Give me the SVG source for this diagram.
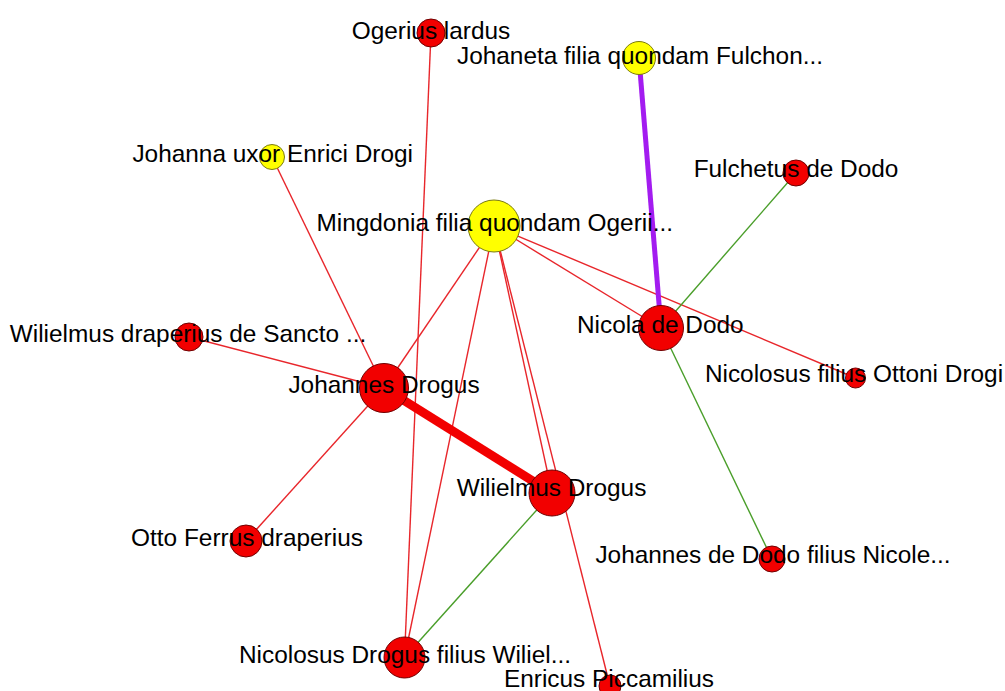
<svg xmlns="http://www.w3.org/2000/svg" width="1005" height="691" viewBox="0 0 1005 691">
<style>
.e{stroke:#e8262b;stroke-width:1.4;fill:none}
.g{stroke:#4a9e2a;stroke-width:1.4;fill:none}
.p{stroke:#a31cf0;stroke-width:5;fill:none}
.t{stroke:#f20000;stroke-width:9;fill:none}
.r{fill:#f20000;stroke:#700000;stroke-width:1}
.y{fill:#ffff00;stroke:#7a7a10;stroke-width:1}
text{font-family:"Liberation Sans",Arial,sans-serif;font-size:24.4px;fill:#000;text-anchor:middle}
</style>
<rect width="1005" height="691" fill="#fff"/>
<g id="connectors">
<line class="e" x1="431" y1="33" x2="404.5" y2="657.5"/>
<line class="e" x1="272" y1="157" x2="384" y2="388"/>
<line class="e" x1="494" y1="226" x2="384" y2="388"/>
<line class="e" x1="494" y1="226" x2="404.5" y2="657.5"/>
<line class="e" x1="494" y1="226" x2="552" y2="493"/>
<line class="e" x1="494" y1="226" x2="610" y2="686"/>
<line class="e" x1="494" y1="226" x2="661" y2="328"/>
<line class="e" x1="494" y1="226" x2="855.5" y2="378"/>
<line class="e" x1="189" y1="337" x2="384" y2="388"/>
<line class="e" x1="384" y1="388" x2="246" y2="541"/>
<line class="t" x1="384" y1="388" x2="552" y2="493"/>
<line class="g" x1="796" y1="173" x2="661" y2="328"/>
<line class="g" x1="661" y1="328" x2="772" y2="559"/>
<line class="g" x1="552" y1="493" x2="404.5" y2="657.5"/>
<line class="p" x1="639" y1="58" x2="661" y2="328"/>
</g>
<g id="node-ogerius"><circle class="r" cx="431" cy="33" r="14"/><text x="431" y="39">Ogerius lardus</text></g>
<g id="node-johaneta"><circle class="y" cx="639" cy="58" r="16.5"/><text x="640" y="64">Johaneta filia quondam Fulchon...</text></g>
<g id="node-johanna"><circle class="y" cx="272" cy="157" r="12.5"/><text x="272.7" y="162">Johanna uxor Enrici Drogi</text></g>
<g id="node-mingdonia"><circle class="y" cx="494" cy="226" r="26"/><text x="494.7" y="231">Mingdonia filia quondam Ogerii...</text></g>
<g id="node-fulchetus"><circle class="r" cx="796" cy="173" r="13"/><text x="796" y="177">Fulchetus de Dodo</text></g>
<g id="node-wdraperius"><circle class="r" cx="189" cy="337" r="14"/><text x="188" y="342">Wilielmus draperius de Sancto ...</text></g>
<g id="node-nicola"><circle class="r" cx="661" cy="328" r="22.5"/><text x="660.3" y="333">Nicola de Dodo</text></g>
<g id="node-jdrogus"><circle class="r" cx="384" cy="388" r="24.5"/><text x="384" y="393">Johannes Drogus</text></g>
<g id="node-nfilius"><circle class="r" cx="855.5" cy="378" r="10"/><text x="854" y="382">Nicolosus filius Ottoni Drogi</text></g>
<g id="node-wdrogus"><circle class="r" cx="552" cy="493" r="23"/><text x="551.5" y="496">Wilielmus Drogus</text></g>
<g id="node-otto"><circle class="r" cx="246" cy="541" r="16"/><text x="247" y="546">Otto Ferrus draperius</text></g>
<g id="node-jdodo"><circle class="r" cx="772" cy="559" r="13"/><text x="773" y="563">Johannes de Dodo filius Nicole...</text></g>
<g id="node-ndrogus"><circle class="r" cx="404.5" cy="657.5" r="20.5"/><text x="405" y="663">Nicolosus Drogus filius Wiliel...</text></g>
<g id="node-enricus"><circle class="r" cx="610" cy="686" r="11"/><text x="609" y="687">Enricus Piccamilius</text></g>
</svg>
